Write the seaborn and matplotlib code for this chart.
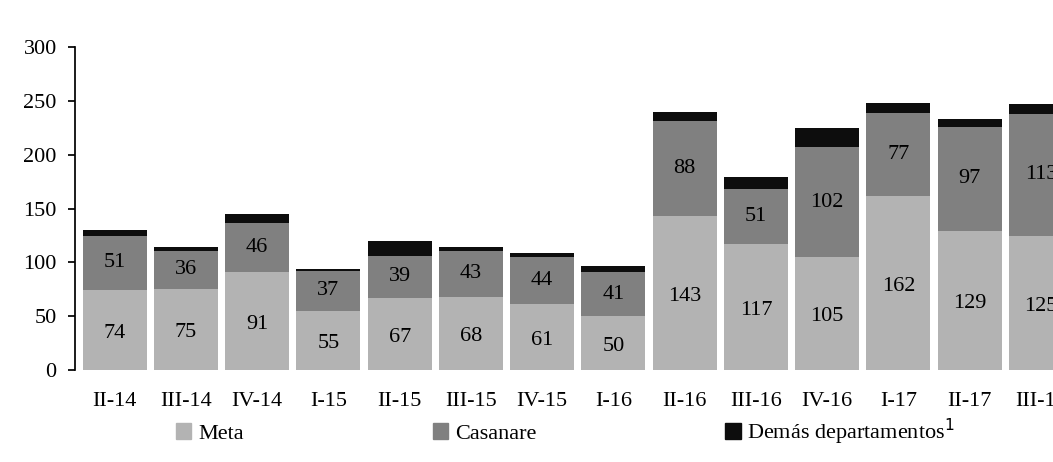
import numpy as np
import pandas as pd
import seaborn as sns
import matplotlib.pyplot as plt
from matplotlib.patches import Patch

periods = ["II-14", "III-14", "IV-14", "I-15", "II-15", "III-15", "IV-15",
           "I-16", "II-16", "III-16", "IV-16", "I-17", "II-17", "III-17"]
meta = [74, 75, 91, 55, 67, 68, 61, 50, 143, 117, 105, 162, 129, 125]
casanare = [51, 36, 46, 37, 39, 43, 44, 41, 88, 51, 102, 77, 97, 113]
demas = [5, 3, 8, 2, 14, 3, 4, 6, 9, 11, 18, 9, 7, 9]

sns.set_theme(style="white")
plt.rcParams['font.family'] = ['Liberation Serif', 'DejaVu Serif']
plt.rcParams['text.color'] = 'black'
plt.rcParams['xtick.color'] = 'black'
plt.rcParams['ytick.color'] = 'black'

df = pd.DataFrame({"periodo": periods, "meta": meta, "casanare": casanare, "demas": demas})
df["mc"] = df["meta"] + df["casanare"]
df["total"] = df["mc"] + df["demas"]

fig = plt.figure(figsize=(10.53, 4.62), dpi=100)
ax = fig.add_axes([0.071, 0.199, 0.929, 0.699])

w = 0.9
sns.barplot(data=df, x="periodo", y="total", color="#0d0d0d", width=w, saturation=1, linewidth=0, ax=ax)
sns.barplot(data=df, x="periodo", y="mc", color="#808080", width=w, saturation=1, linewidth=0, ax=ax)
sns.barplot(data=df, x="periodo", y="meta", color="#b3b3b3", width=w, saturation=1, linewidth=0, ax=ax)

for i, r in df.iterrows():
    ax.text(i, r["meta"] / 2 - 3, str(r["meta"]), ha="center", va="center", fontsize=16)
    ax.text(i, r["meta"] + r["casanare"] / 2, str(r["casanare"]), ha="center", va="center", fontsize=16)

ax.set_xlim(-0.56, 13.17)
ax.set_ylim(0, 300)
ax.set_yticks(range(0, 301, 50))
ax.set_xlabel("")
ax.set_ylabel("")
for s in ["top", "right", "bottom"]:
    ax.spines[s].set_visible(False)
ax.spines["left"].set_color("black")
ax.tick_params(axis="y", left=True, length=5, color="black", labelsize=16, pad=8)
ax.tick_params(axis="x", bottom=False, labelsize=16, pad=10)

handles = [Patch(color="#b3b3b3", label="Meta"),
           Patch(color="#808080", label="Casanare"),
           Patch(color="#0d0d0d", label="Demás departamentos$^1$")]
fig.legend(handles=handles, loc="lower left", bbox_to_anchor=(0.148, -0.01), ncol=3,
           frameon=False, fontsize=16, handlelength=0.7, handleheight=0.7,
           handletextpad=0.3, columnspacing=8.5)

fig.savefig("out.png", dpi=100)
